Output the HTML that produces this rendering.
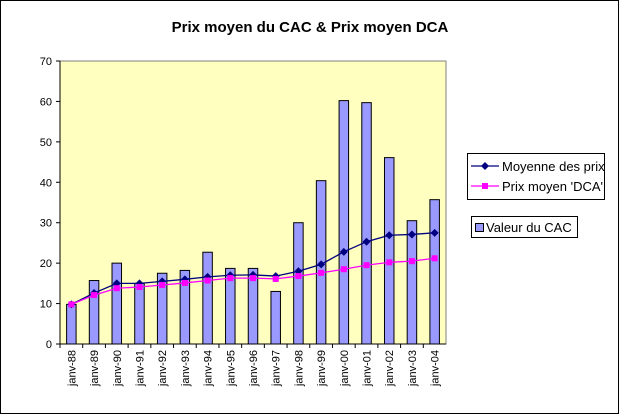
<!DOCTYPE html>
<html><head><meta charset="utf-8"><style>
body{margin:0;background:#fff;}
svg text{font-family:"Liberation Sans",Arial,sans-serif;}
</style></head><body>
<svg id="chart" width="619" height="414" xmlns="http://www.w3.org/2000/svg">
<rect x="0.5" y="0.5" width="618" height="413" fill="#fff" stroke="#000"/>
<text x="310" y="32" text-anchor="middle" font-size="15" font-weight="bold">Prix moyen du CAC &amp; Prix moyen DCA</text>
<rect x="60" y="61" width="386" height="283" fill="#ffffc0" stroke="#808080"/>
<g id="yaxis"></g><g id="xaxis"></g><g id="bars"></g><g id="lines"></g>
<g>
<rect x="467.5" y="153.5" width="137" height="46" fill="#fff" stroke="#000"/>
<line x1="471" y1="166" x2="499" y2="166" stroke="#000080" stroke-width="1.3"/>
<path d="M485 162 L489 166 L485 170 L481 166Z" fill="#000080"/>
<text x="502" y="171" font-size="13">Moyenne des prix</text>
<line x1="471" y1="186" x2="499" y2="186" stroke="#ff00ff" stroke-width="1.3"/>
<rect x="482" y="183" width="6" height="6" fill="#ff00ff"/>
<text x="502" y="191" font-size="13">Prix moyen 'DCA'</text>
</g>
<g>
<rect x="471.5" y="216.5" width="106" height="21" fill="#fff" stroke="#000"/>
<rect x="475.5" y="223.5" width="8" height="8" fill="#9999ff" stroke="#000"/>
<text x="486" y="232" font-size="13">Valeur du CAC</text>
</g>
</svg>
<script>
const categories=["janv-88","janv-89","janv-90","janv-91","janv-92","janv-93","janv-94","janv-95","janv-96","janv-97","janv-98","janv-99","janv-00","janv-01","janv-02","janv-03","janv-04"];
const cacValues=[9.8,15.7,20,15,17.5,18.2,22.7,18.7,18.7,13,30,40.4,60.2,59.7,46.1,30.5,35.7];
const moyenneValues=[9.8,12.6,15,15,15.5,16,16.6,17,17.1,16.8,18,19.7,22.8,25.3,26.9,27.1,27.5];
const dcaValues=[9.8,12.1,13.8,14.1,14.6,15.1,15.7,16.3,16.3,16.1,16.8,17.6,18.5,19.5,20.2,20.5,21.2];
const yTicks=[0,10,20,30,40,50,60,70];
const NS="http://www.w3.org/2000/svg";
const L=60,R=446,T=61,B=344,YMAX=70;
const band=(R-L)/categories.length;
function x(i){return L+band*(i+0.5);}
function y(v){return B-(v/YMAX)*(B-T);}
function mk(tag,attrs,parent){const e=document.createElementNS(NS,tag);for(const k in attrs)e.setAttribute(k,attrs[k]);parent.appendChild(e);return e;}
const ya=document.getElementById('yaxis'),xa=document.getElementById('xaxis'),bg=document.getElementById('bars'),lg=document.getElementById('lines');
mk('line',{x1:L,y1:T,x2:L,y2:B,stroke:'#000'},ya);
mk('line',{x1:L,y1:B,x2:R,y2:B,stroke:'#000'},xa);
yTicks.forEach(t=>{
 mk('line',{x1:L-4,y1:y(t),x2:L,y2:y(t),stroke:'#000'},ya);
 const tx=mk('text',{x:L-8,y:y(t)+4,'text-anchor':'end','font-size':11},ya);
 
 
 tx.textContent=t;
});
categories.forEach((c,i)=>{
 mk('line',{x1:L+band*i,y1:B,x2:L+band*i,y2:B+4,stroke:'#000'},xa);
 const tx=mk('text',{x:0,y:0,'text-anchor':'end','font-size':11,transform:`translate(${x(i)+4},${B+6}) rotate(-90)`},xa);
 
 
 tx.textContent=c;
 const bw=9.5;
 const r=mk('rect',{x:x(i)-bw/2,y:y(cacValues[i]),width:bw,height:B-y(cacValues[i]),fill:'#9999ff',stroke:'#000','stroke-width':1},bg);
 
 
});
function series(vals,color,marker,name){
 const pts=vals.map((v,i)=>x(i)+','+y(v)).join(' ');
 const pl=mk('polyline',{points:pts,fill:'none',stroke:color,'stroke-width':1.3},lg);
 
 
 vals.forEach((v,i)=>{
  let m;
  if(marker==='d') m=mk('path',{d:`M${x(i)} ${y(v)-4}L${x(i)+4} ${y(v)}L${x(i)} ${y(v)+4}L${x(i)-4} ${y(v)}Z`,fill:color},lg);
  else m=mk('rect',{x:x(i)-3,y:y(v)-3,width:6,height:6,fill:color},lg);
  
  
 });
}
series(moyenneValues,'#000080','d','moyenne');
series(dcaValues,'#ff00ff','s','dca');
</script>
</body></html>
